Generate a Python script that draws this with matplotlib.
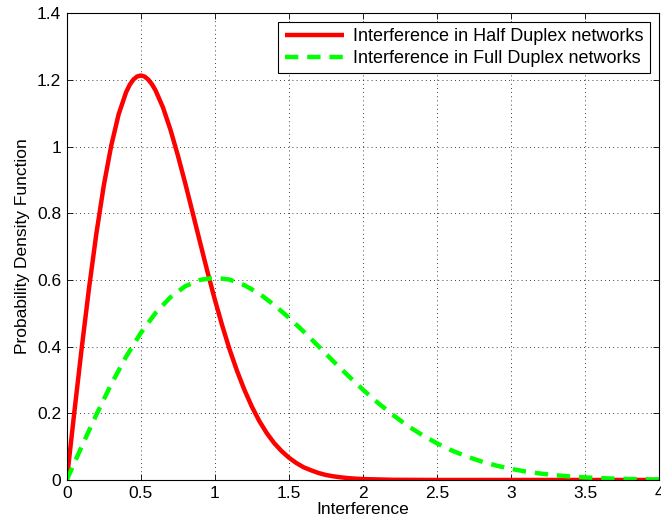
import matplotlib
matplotlib.use("Agg")
import matplotlib.pyplot as plt

# Half duplex interference PDF
x_half = [0.0, 0.05, 0.1, 0.15, 0.2, 0.25, 0.3, 0.35, 0.4, 0.425, 0.45, 0.475, 0.5, 0.525,
          0.55, 0.575, 0.6, 0.65,
          0.7, 0.75, 0.8, 0.85, 0.9, 0.95, 1.0, 1.05, 1.1, 1.15, 1.2, 1.25, 1.3, 1.35,
          1.4, 1.45, 1.5, 1.55, 1.6, 1.65, 1.7, 1.75, 1.8, 1.85, 1.9, 1.95, 2.0, 2.2,
          2.5, 3.0, 3.5, 4.0]
y_half = [0.0, 0.199, 0.392, 0.574, 0.739, 0.883, 1.002, 1.096, 1.162, 1.185, 1.201, 1.210,
          1.213, 1.210, 1.201, 1.187,
          1.168, 1.117, 1.051, 0.974, 0.890, 0.802, 0.713, 0.625, 0.541, 0.463, 0.391,
          0.327, 0.270, 0.220, 0.177, 0.141, 0.111, 0.087, 0.067, 0.051, 0.038, 0.029,
          0.021, 0.015, 0.011, 0.008, 0.0056, 0.0039, 0.0027, 0.0006, 0.0, 0.0, 0.0, 0.0]

# Full duplex interference PDF
x_full = [0.0, 0.1, 0.2, 0.3, 0.4, 0.5, 0.6, 0.7, 0.8, 0.9, 1.0, 1.1, 1.2, 1.3, 1.4,
          1.5, 1.6, 1.7, 1.8, 1.9, 2.0, 2.1, 2.2, 2.3, 2.4, 2.5, 2.6, 2.7, 2.8, 2.9,
          3.0, 3.1, 3.2, 3.3, 3.4, 3.5, 3.6, 3.7, 3.8, 3.9, 4.0]
y_full = [0.0, 0.0995, 0.196, 0.287, 0.369, 0.441, 0.501, 0.548, 0.581, 0.600, 0.6065,
          0.601, 0.584, 0.559, 0.525, 0.487, 0.445, 0.401, 0.356, 0.313, 0.271, 0.232,
          0.196, 0.163, 0.135, 0.110, 0.0885, 0.0706, 0.0556, 0.0433, 0.0333, 0.0254,
          0.0192, 0.0143, 0.0105, 0.0077, 0.0056, 0.0040, 0.0028, 0.0019, 0.0013]

labels = ["Interference in Half Duplex networks", "Interference in Full Duplex networks"]
x_ticks = [0, 0.5, 1, 1.5, 2, 2.5, 3, 3.5, 4]
x_ticklabels = ["0", "0.5", "1", "1.5", "2", "2.5", "3", "3.5", "4"]
y_ticks = [0, 0.2, 0.4, 0.6, 0.8, 1.0, 1.2, 1.4]
y_ticklabels = ["0", "0.2", "0.4", "0.6", "0.8", "1", "1.2", "1.4"]

plt.rcParams['font.family'] = ['Liberation Sans', 'DejaVu Sans']
plt.rcParams['font.size'] = 12.5

fig = plt.figure(figsize=(6.61, 5.26), dpi=100)
ax = fig.add_axes([0.101, 0.0875, 0.896, 0.8875])

ax.plot(x_half, y_half, color='#ff0000', lw=3.2, label=labels[0],
        solid_joinstyle='round', solid_capstyle='butt')
ax.plot(x_full, y_full, color='#00ff00', lw=3.2, dashes=(3, 2), label=labels[1])

ax.set_xlim(0, 4)
ax.set_ylim(0, 1.4)
ax.set_xticks(x_ticks)
ax.set_xticklabels(x_ticklabels)
ax.set_yticks(y_ticks)
ax.set_yticklabels(y_ticklabels)
ax.tick_params(direction='in', top=True, right=True, length=4, width=0.6, pad=4)
ax.grid(True, color='black', linestyle=(0, (1, 4)), linewidth=0.6)
for s in ax.spines.values():
    s.set_linewidth(0.8)

ax.set_xlabel("Interference", labelpad=1)
ax.set_ylabel("Probability Density Function", labelpad=5)

leg = ax.legend(loc='upper right', fancybox=False, framealpha=1, edgecolor='black',
                borderaxespad=0.5, handlelength=3.3, handletextpad=0.5, borderpad=0.35,
                labelspacing=0.25, fontsize=13)
leg.get_frame().set_linewidth(0.8)

fig.savefig("out.png", dpi=100)
